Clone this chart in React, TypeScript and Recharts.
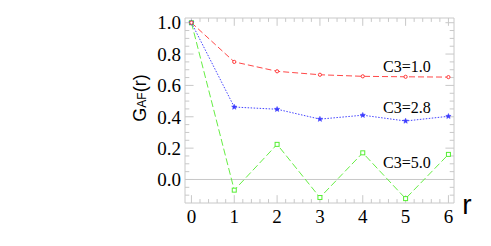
import { LineChart, Line, XAxis, YAxis, ReferenceLine, ReferenceArea, ReferenceDot, Label } from 'recharts';

const rValues = [0, 1, 2, 3, 4, 5, 6];
const c10 = [1.0, 0.75, 0.69, 0.668, 0.658, 0.655, 0.653];
const c28 = [1.0, 0.462, 0.448, 0.385, 0.41, 0.373, 0.403];
const c50 = [1.0, -0.068, 0.224, -0.115, 0.17, -0.122, 0.16];

const xTicks = [0, 1, 2, 3, 4, 5, 6];
const yTicks = [0, 0.2, 0.4, 0.6, 0.8, 1.0];

const seriesLabels = [
  { text: 'C3=1.0', x: 5.03, y: 0.72 },
  { text: 'C3=2.8', x: 5.03, y: 0.46 },
  { text: 'C3=5.0', x: 5.03, y: 0.11 },
];

const X_MIN = -0.15;
const X_MAX = 6.13;
const Y_MIN = -0.15;
const Y_MAX = 1.03;

const data = rValues.map((r, i) => ({ r, a: c10[i], b: c28[i], c: c50[i] }));

// minor ticks on the frame (decoration only)
const xMinor = Array.from({ length: 31 }, (_, i) => +(i * 0.2).toFixed(2));
const yMinor = Array.from({ length: 24 }, (_, i) => +(-0.15 + i * 0.05).toFixed(2)).filter(v => v > Y_MIN && v < Y_MAX);

const FRAME = '#c8c8c8';
const serif = 'Liberation Serif';
const sans = 'Liberation Sans';

const CircleDot = (props: any) => {
  const { cx, cy } = props;
  if (cx == null || cy == null) return null;
  return <circle cx={cx} cy={cy} r={1.6} fill="#fff" stroke="#ff3838" strokeWidth={1} />;
};

const StarDot = (props: any) => {
  const { cx, cy } = props;
  if (cx == null || cy == null) return null;
  const pts: string[] = [];
  for (let k = 0; k < 10; k++) {
    const rad = k % 2 === 0 ? 2.8 : 1.2;
    const ang = -Math.PI / 2 + (k * Math.PI) / 5;
    pts.push(`${cx + rad * Math.cos(ang)},${cy + rad * Math.sin(ang)}`);
  }
  return <polygon points={pts.join(' ')} fill="#3a3aff" stroke="#3a3aff" strokeWidth={0.5} />;
};

const SquareDot = (props: any) => {
  const { cx, cy } = props;
  if (cx == null || cy == null) return null;
  return <rect x={cx - 2} y={cy - 2} width={4} height={4} fill="#fff" stroke="#55ee33" strokeWidth={1} />;
};

export default function App() {
  return (
    <div style={{ position: 'absolute', left: 0, top: 0, width: 491, height: 246, background: '#fff' }}>
      <LineChart width={491} height={246} data={data} margin={{ top: 18, right: 37, bottom: 0, left: 0 }}>
        <XAxis
          dataKey="r"
          type="number"
          domain={[X_MIN, X_MAX]}
          ticks={xTicks}
          allowDataOverflow
          axisLine={false}
          tickLine={false}
          tickSize={0}
          tickMargin={7}
          height={43}
          tick={{ fontFamily: serif, fontSize: 19, fill: '#000' }}
        />
        <YAxis
          type="number"
          domain={[Y_MIN, Y_MAX]}
          ticks={yTicks}
          allowDataOverflow
          axisLine={false}
          tickLine={false}
          tickSize={0}
          tickMargin={4}
          width={185}
          tickFormatter={(v: number) => v.toFixed(1)}
          tick={{ fontFamily: serif, fontSize: 19, fill: '#000' }}
        />
        <ReferenceArea x1={X_MIN} x2={X_MAX} y1={Y_MIN} y2={Y_MAX} fill="none" stroke={FRAME} strokeWidth={1} />
        <ReferenceLine y={0} stroke={FRAME} strokeWidth={1} />
        {xMinor.map(v => {
          const len = Number.isInteger(v) ? 0.05 : 0.025;
          return [
            <ReferenceLine key={`xb${v}`} segment={[{ x: v, y: Y_MIN }, { x: v, y: Y_MIN + len }]} stroke={FRAME} />,
            <ReferenceLine key={`xt${v}`} segment={[{ x: v, y: Y_MAX }, { x: v, y: Y_MAX - len }]} stroke={FRAME} />,
          ];
        })}
        {yMinor.map(v => {
          const major = Math.abs(v * 5 - Math.round(v * 5)) < 1e-6;
          const len = major ? 0.2 : 0.1;
          return [
            <ReferenceLine key={`yl${v}`} segment={[{ x: X_MIN, y: v }, { x: X_MIN + len, y: v }]} stroke={FRAME} />,
            <ReferenceLine key={`yr${v}`} segment={[{ x: X_MAX, y: v }, { x: X_MAX - len, y: v }]} stroke={FRAME} />,
          ];
        })}
        <Line
          dataKey="c"
          stroke="#66ee44"
          strokeWidth={1}
          strokeDasharray="7 3"
          dot={<SquareDot />}
          isAnimationActive={false}
        />
        <Line
          dataKey="b"
          stroke="#4444ff"
          strokeWidth={1}
          strokeDasharray="1.5 1.5"
          dot={<StarDot />}
          isAnimationActive={false}
        />
        <Line
          dataKey="a"
          stroke="#ff4848"
          strokeWidth={1}
          strokeDasharray="6 3"
          dot={<CircleDot />}
          isAnimationActive={false}
        />
        {seriesLabels.map(l => (
          <ReferenceDot key={l.text} x={l.x} y={l.y} r={0} fill="none" stroke="none">
            <Label value={l.text} position="center" fontFamily={serif} fontSize={16} fill="#000" />
          </ReferenceDot>
        ))}
      </LineChart>
      <svg width={491} height={246} style={{ position: 'absolute', left: 0, top: 0, pointerEvents: 'none' }}>
        <text x={467} y={214} textAnchor="middle" fontFamily={sans} fontSize={28} fill="#000">r</text>
        <text transform="translate(146,98) rotate(-90)" textAnchor="middle" fontFamily={sans} fontSize={18} fill="#000">
          G<tspan fontSize={12}>AF</tspan>(r)
        </text>
      </svg>
    </div>
  );
}
